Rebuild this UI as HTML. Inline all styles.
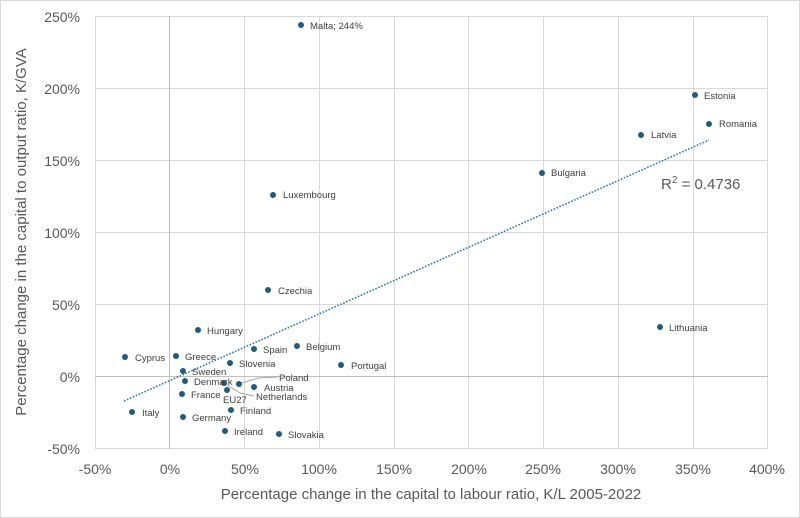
<!DOCTYPE html>
<html><head><meta charset="utf-8"><style>
html,body{margin:0;padding:0;background:#fff;}
svg{display:block;font-family:"Liberation Sans",sans-serif;}
.t{font-size:9.5px;fill:#404040;}
.ax{font-size:14px;fill:#595959;}
</style></head><body>
<svg width="800" height="518" viewBox="0 0 800 518">
<rect x="0.5" y="0.5" width="799" height="517" fill="#fff" stroke="#d9d9d9"/>
<g stroke="#d9d9d9" stroke-width="1">
<line x1="95" y1="16.5" x2="768" y2="16.5"/>
<line x1="95" y1="88.5" x2="768" y2="88.5"/>
<line x1="95" y1="160.5" x2="768" y2="160.5"/>
<line x1="95" y1="232.5" x2="768" y2="232.5"/>
<line x1="95" y1="304.5" x2="768" y2="304.5"/>
<line x1="95" y1="448.5" x2="768" y2="448.5"/>
<line x1="95.5" y1="16" x2="95.5" y2="449"/>
<line x1="244.5" y1="16" x2="244.5" y2="449"/>
<line x1="319.5" y1="16" x2="319.5" y2="449"/>
<line x1="394.5" y1="16" x2="394.5" y2="449"/>
<line x1="468.5" y1="16" x2="468.5" y2="449"/>
<line x1="543.5" y1="16" x2="543.5" y2="449"/>
<line x1="618.5" y1="16" x2="618.5" y2="449"/>
<line x1="693.5" y1="16" x2="693.5" y2="449"/>
<line x1="767.5" y1="16" x2="767.5" y2="449"/>
</g>
<g stroke="#bfbfbf" stroke-width="1">
<line x1="95" y1="376.5" x2="768" y2="376.5"/>
<line x1="169.5" y1="16" x2="169.5" y2="449"/>
</g>
<g class="ax" text-anchor="end">
<text x="80" y="22">250%</text><text x="80" y="94">200%</text><text x="80" y="166">150%</text>
<text x="80" y="238">100%</text><text x="80" y="310">50%</text><text x="80" y="382">0%</text><text x="80" y="454">-50%</text>
</g>
<g class="ax" text-anchor="middle">
<text x="95" y="474">-50%</text><text x="170" y="474">0%</text><text x="245" y="474">50%</text><text x="319" y="474">100%</text>
<text x="394" y="474">150%</text><text x="469" y="474">200%</text><text x="543" y="474">250%</text><text x="618" y="474">300%</text>
<text x="693" y="474">350%</text><text x="767" y="474">400%</text>
<text x="431" y="499" font-size="15">Percentage change in the capital to labour ratio, K/L 2005-2022</text>
<text transform="translate(26,232) rotate(-90)" font-size="15">Percentage change in the capital to output ratio, K/GVA</text>
</g>
<line x1="124" y1="401" x2="709" y2="140" stroke="#2e75b6" stroke-width="1.6" stroke-dasharray="1.6,1.6"/>
<text x="661" y="189" font-size="15" fill="#595959">R<tspan dy="-6" font-size="10">2</tspan><tspan dy="6"> = 0.4736</tspan></text>
<g stroke="#a6a6a6" stroke-width="1" fill="none">
<polyline points="239,384 258,378 278,377"/>
<polyline points="224,383 240,393 254,396"/>
</g>
<g fill="#1f5c7f">
<circle cx="301" cy="25" r="3"/><circle cx="695" cy="95" r="3"/><circle cx="709" cy="124" r="3"/>
<circle cx="641" cy="135" r="3"/><circle cx="542" cy="173" r="3"/><circle cx="273" cy="195" r="3"/>
<circle cx="268" cy="290" r="3"/><circle cx="660" cy="327" r="3"/><circle cx="198" cy="330" r="3"/>
<circle cx="297" cy="346" r="3"/><circle cx="254" cy="349" r="3"/><circle cx="125" cy="357" r="3"/>
<circle cx="176" cy="356" r="3"/><circle cx="230" cy="363" r="3"/><circle cx="341" cy="365" r="3"/>
<circle cx="183" cy="371" r="3"/><circle cx="185" cy="381" r="3"/><circle cx="239" cy="384" r="3"/>
<circle cx="254" cy="387" r="3"/><circle cx="227" cy="390" r="3"/><circle cx="224" cy="383" r="3"/>
<circle cx="182" cy="394" r="3"/><circle cx="231" cy="410" r="3"/><circle cx="132" cy="412" r="3"/>
<circle cx="183" cy="417" r="3"/><circle cx="225" cy="431" r="3"/><circle cx="279" cy="434" r="3"/>
</g>
<g class="t">
<text x="310" y="29">Malta; 244%</text><text x="704" y="99">Estonia</text><text x="719" y="127">Romania</text>
<text x="651" y="138">Latvia</text><text x="551" y="176">Bulgaria</text><text x="283" y="198">Luxembourg</text>
<text x="278" y="294">Czechia</text><text x="669" y="331">Lithuania</text><text x="207" y="334">Hungary</text>
<text x="306" y="350">Belgium</text><text x="263" y="353">Spain</text><text x="135" y="361">Cyprus</text>
<text x="185" y="360">Greece</text><text x="239" y="367">Slovenia</text><text x="351" y="369">Portugal</text>
<text x="192" y="375">Sweden</text><text x="194" y="385">Denmark</text><text x="279" y="381">Poland</text>
<text x="264" y="391">Austria</text><text x="223" y="403">EU27</text><text x="256" y="400">Netherlands</text>
<text x="191" y="398">France</text><text x="240" y="414">Finland</text><text x="142" y="416">Italy</text>
<text x="192" y="421">Germany</text><text x="234" y="435">Ireland</text><text x="288" y="438">Slovakia</text>
</g>
</svg>
</body></html>
